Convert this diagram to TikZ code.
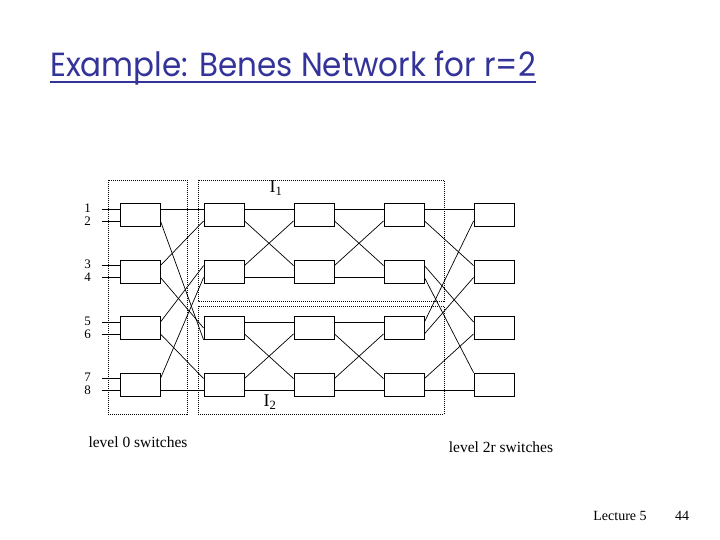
\documentclass[tikz,border=0pt]{standalone}
\usepackage{fontspec}
\setmainfont{Liberation Serif}
\newfontfamily\titlefont{Poppins}
\usetikzlibrary{calc}
\definecolor{titleblue}{RGB}{51,51,153}
\tikzset{
  sw/.style={draw, line width=0.8pt, minimum width=40pt, minimum height=23pt, inner sep=0pt},
  wire/.style={line width=0.7pt},
  grp/.style={draw, line width=0.7pt, dash pattern=on 1pt off 1pt},
  lbl/.style={font=\fontsize{13}{13}\selectfont, inner sep=0pt},
  captxt/.style={font=\fontsize{15.5}{15.5}\selectfont, inner sep=0pt},
  foot/.style={font=\fontsize{14}{14}\selectfont, inner sep=0pt}
}
\begin{document}
\begin{tikzpicture}[x=1pt, y=-1pt]
\useasboundingbox (0,0) rectangle (720,540);
% title
\node[anchor=base west, inner sep=0pt, text=titleblue, font=\titlefont\fontsize{31}{31}\selectfont] (title) at (50,77) {\scalebox{1}[1.08]{Example: Benes Network for r=2}};
\draw[titleblue, line width=1.8pt] ($(title.base west)+(0,5)$) coordinate (ul1) -- ($(title.base east)+(0,5)$) coordinate (ul2);
% group boxes
\draw[grp] (108,180) rectangle (187,414);
\draw[grp] (198,180) rectangle (444,301);
\draw[grp] (198,306) rectangle (444,414);
% switches
\foreach \c/\x in {0/140,1/224,2/314,3/404,4/494}{
  \foreach \r/\y in {1/215,2/271.5,3/328,4/384.5}{
    \node[sw] (s\c\r) at (\x,\y) {};
    \coordinate (s\c\r-lu) at ([yshift=-6pt]s\c\r.north west);
    \coordinate (s\c\r-ll) at ([yshift=6pt]s\c\r.south west);
    \coordinate (s\c\r-ru) at ([yshift=-6pt]s\c\r.north east);
    \coordinate (s\c\r-rl) at ([yshift=6pt]s\c\r.south east);
  }
}
% inputs
\foreach \r/\a/\b in {1/1/2,2/3/4,3/5/6,4/7/8}{
  \coordinate (in\a) at ($(s0\r-lu)+(-18,0)$);
  \coordinate (in\b) at ($(s0\r-ll)+(-18,0)$);
  \draw[wire] (in\a) -- (s0\r-lu);
  \draw[wire] (in\b) -- (s0\r-ll);
  \node[lbl] (n\a) at ($(s0\r-lu)+(-32,-1)$) {\a};
  \node[lbl] (n\b) at ($(s0\r-ll)+(-32,0)$) {\b};
}
% stage 0 -> 1
\draw[wire] (s01-ru) -- (s11-lu);
\draw[wire] (s01-rl) -- (s13.south west);
\draw[wire] (s02-ru) -- (s11-ll);
\draw[wire] (s02-rl) -- (s13.west);
\draw[wire] (s03-ru) -- (s12-lu);
\draw[wire] (s03-rl) -- (s14-lu);
\draw[wire] (s04-ru) -- (s12-ll);
\draw[wire] (s04-rl) -- (s14-ll);
% inner stages
\foreach \a/\b in {1/2,2/3}{
  \foreach \p/\q in {1/2,3/4}{
    \draw[wire] (s\a\p-ru) -- (s\b\p-lu);
    \draw[wire] (s\a\p-rl) -- (s\b\q-lu);
    \draw[wire] (s\a\q-ru) -- (s\b\p-ll);
    \draw[wire] (s\a\q-rl) -- (s\b\q-ll);
  }
}
% stage 3 -> 4
\draw[wire] (s31-ru) -- (s41-lu);
\draw[wire] (s31-rl) -- (s42-lu);
\draw[wire] (s32-ru) -- (s43-lu);
\draw[wire] (s32-rl) -- (s44.north west);
\draw[wire] (s33-ru) -- (s41-ll);
\draw[wire] (s33-rl) -- (s42-ll);
\draw[wire] (s34-ru) -- (s43-ll);
\draw[wire] (s34-rl) -- (s44-ll);
% labels
\node[font=\fontsize{18}{18}\selectfont, inner sep=0pt] (I1) at (276,188) {I\textsubscript{1}};
\node[font=\fontsize{18}{18}\selectfont, inner sep=0pt] (I2) at (270,402) {I\textsubscript{2}};
\node[captxt] (c0) at (138,442) {level 0 switches};
\node[captxt] (c2) at (501,447) {level 2r switches};
\node[foot] (lec) at (620,516) {Lecture 5};
\node[foot] (pg) at (682,516) {44};
\end{tikzpicture}
\end{document}
